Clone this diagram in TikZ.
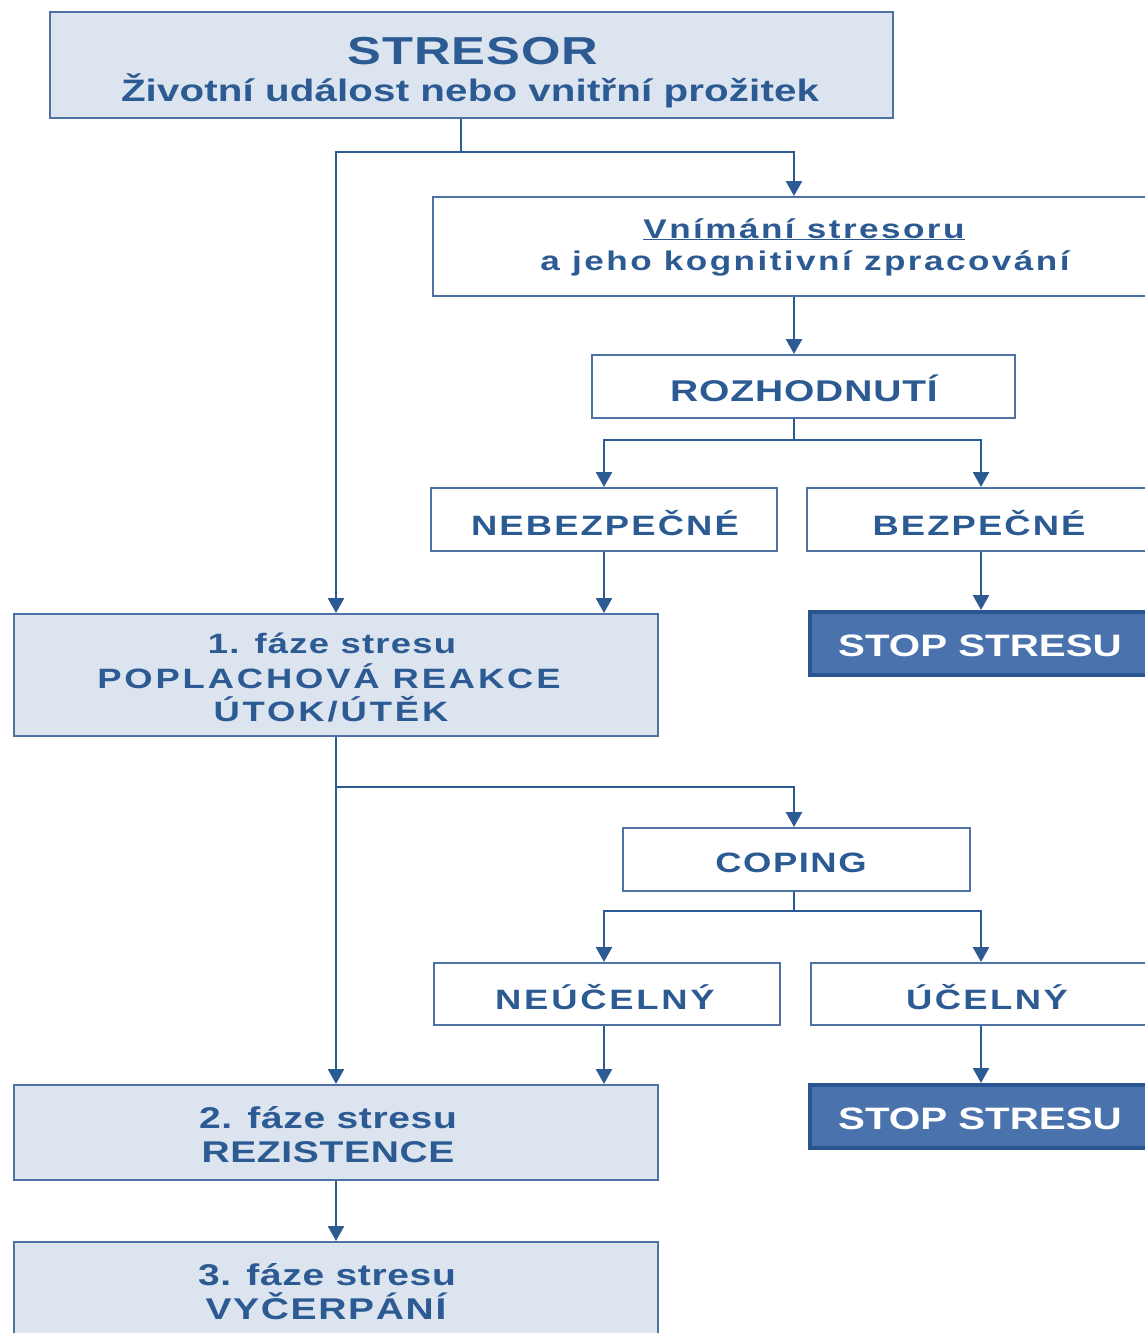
\documentclass[tikz,border=0pt]{standalone}
\usepackage{fontspec}
\usepackage{graphicx}
\setmainfont{Liberation Sans}
\usetikzlibrary{arrows.meta}
\definecolor{tblue}{HTML}{2C5A93}
\definecolor{bline}{HTML}{4D72A3}
\definecolor{lfill}{HTML}{DCE4EF}
\definecolor{sfill}{HTML}{4A72AC}
\definecolor{sline}{HTML}{2A5592}
\tikzset{
  shaded/.style={draw=bline, line width=2pt, fill=lfill, inner sep=0pt},
  plain/.style={draw=bline, line width=2pt, fill=white, inner sep=0pt},
  stopbox/.style={draw=sline, line width=4pt, fill=sfill, inner sep=0pt},
  txt/.style={text=tblue, font=\bfseries, inner sep=0pt, anchor=base},
  wtxt/.style={text=white, font=\bfseries, inner sep=0pt, anchor=base},
  conn/.style={draw=tblue, line width=2.5pt},
  arr/.style={conn, -{Triangle[width=16pt,length=15pt]}},
}
% size, letter spacing, text
\newcommand{\tl}[3]{\scalebox{1.3}[1]{\fontsize{#1}{#1}\selectfont\addfontfeature{LetterSpace=#2}#3}}
\begin{document}
\begin{tikzpicture}[x=1pt,y=-1pt]
\useasboundingbox (0,0) rectangle (1145,1333);
\clip (0,0) rectangle (1145,1333);
\fill[white] (0,0) rectangle (1145,1333);

\coordinate (xa) at (336,0);
\coordinate (xb) at (794,0);
\coordinate (xl) at (604,0);
\coordinate (xr) at (981,0);

% boxes
\node[shaded, minimum width=843, minimum height=106] (stresor) at (471.5,65) {};
\node[plain, minimum width=742, minimum height=99] (vnim) at (804,246.5) {};
\node[plain, minimum width=423, minimum height=63] (rozh) at (803.5,386.5) {};
\node[plain, minimum width=346, minimum height=63] (nebez) at (604,519.5) {};
\node[plain, minimum width=348, minimum height=63] (bez) at (981,519.5) {};
\node[shaded, minimum width=644, minimum height=122] (faze1) at (336,675) {};
\node[stopbox, minimum width=345, minimum height=63] (stop1) at (982.5,643.5) {};
\node[plain, minimum width=347, minimum height=63] (coping) at (796.5,859.5) {};
\node[plain, minimum width=346, minimum height=62] (neuc) at (607,994) {};
\node[plain, minimum width=344, minimum height=62] (uc) at (983,994) {};
\node[shaded, minimum width=644, minimum height=95] (faze2) at (336,1132.5) {};
\node[stopbox, minimum width=345, minimum height=63] (stop2) at (982.5,1116.5) {};
\node[shaded, minimum width=644, minimum height=103] (faze3) at (336,1293.5) {};

% texts
\node[txt] (t1a) at (473,64) {\tl{39}{2}{STRESOR}};
\node[txt] (t1b) at (470,101) {\tl{31}{0.3}{Životní událost nebo vnitřní prožitek}};
\node[txt] (t2a) at (804,238) {\tl{27}{7}{\underline{Vnímání stresoru}}};
\node[txt] (t2b) at (805,270) {\tl{27}{7}{a jeho kognitivní zpracování}};
\node[txt] (t3) at (804,401) {\tl{30}{2.2}{ROZHODNUTÍ}};
\node[txt] (t4) at (605,535) {\tl{28}{5.8}{NEBEZPEČNÉ}};
\node[txt] (t5) at (979,535) {\tl{28}{5.8}{BEZPEČNÉ}};
\node[wtxt] (t6) at (980,656) {\tl{31}{0}{STOP STRESU}};
\node[txt] (t7a) at (332,653) {\tl{28}{3.5}{1. fáze stresu}};
\node[txt] (t7b) at (329,688) {\tl{28}{7.8}{POPLACHOVÁ REAKCE}};
\node[txt] (t7c) at (331,721) {\tl{28}{8}{ÚTOK/ÚTĚK}};
\node[txt] (t8) at (791,872) {\tl{28}{4.2}{COPING}};
\node[txt] (t9) at (605,1009) {\tl{28}{7.6}{NEÚČELNÝ}};
\node[txt] (t10) at (987,1009) {\tl{28}{6.7}{ÚČELNÝ}};
\node[wtxt] (t11) at (980,1129) {\tl{31}{0}{STOP STRESU}};
\node[txt] (t12a) at (328,1128) {\tl{30}{1.6}{2. fáze stresu}};
\node[txt] (t12b) at (328,1162) {\tl{30}{1.7}{REZISTENCE}};
\node[txt] (t13a) at (327,1285) {\tl{30}{1.6}{3. fáze stresu}};
\node[txt] (t13b) at (326,1319) {\tl{30}{4.3}{VYČERPÁNÍ}};

% connectors
\coordinate (j) at (461,152);
\coordinate (k) at (794,440);
\coordinate (m) at (336,787);
\coordinate (n) at (794,911);

\draw[conn] (stresor.south -| j) -- (j);
\draw[arr] (j) -| (faze1.north -| xa);
\draw[arr] (j) -| (vnim.north -| xb);
\draw[arr] (vnim.south -| xb) -- (rozh.north -| xb);
\draw[conn] (rozh.south -| xb) -- (k);
\draw[arr] (k) -| (nebez.north -| xl);
\draw[arr] (k) -| (bez.north -| xr);
\draw[arr] (nebez.south -| xl) -- (faze1.north -| xl);
\draw[arr] (bez.south -| xr) -- (stop1.north -| xr);
\draw[arr] (faze1.south -| xa) -- (faze2.north -| xa);
\draw[arr] (m) -| (coping.north -| xb);
\draw[conn] (coping.south -| xb) -- (n);
\draw[arr] (n) -| (neuc.north -| xl);
\draw[arr] (n) -| (uc.north -| xr);
\draw[arr] (neuc.south -| xl) -- (faze2.north -| xl);
\draw[arr] (uc.south -| xr) -- (stop2.north -| xr);
\draw[arr] (faze2.south -| xa) -- (faze3.north -| xa);
\end{tikzpicture}
\end{document}
